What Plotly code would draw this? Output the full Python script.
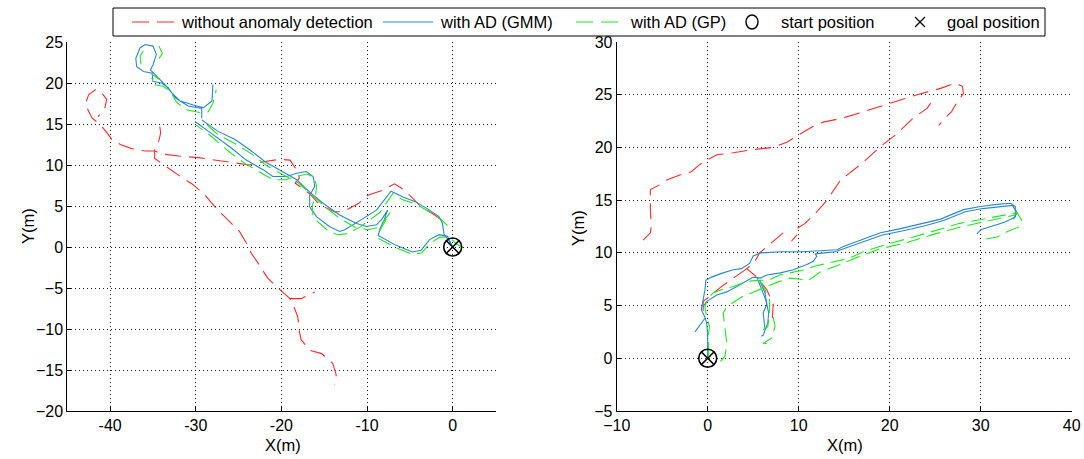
import plotly.graph_objects as go

# ---------------- trajectories (metres) ----------------
# Each series is a list of polyline segments of (x, y) points.

# Scenario 1 (left panel)
left_no_ad = [
    [(-1.5, 3.4), (-2.1, 3.9), (-3.9, 5.1), (-5.0, 6.3), (-6.0, 7.2), (-6.8, 7.7), (-7.5, 7.3),
     (-8.2, 6.9), (-9.9, 6.3), (-10.5, 5.8), (-11.0, 5.3), (-12.8, 4.3), (-13.8, 4.3), (-15.5, 5.1),
     (-16.7, 6.5), (-18.4, 7.8), (-17.9, 8.4), (-18.1, 9.2), (-19.0, 10.6), (-20.2, 10.7),
     (-22.1, 10.4), (-23.7, 10.0), (-26.8, 10.5), (-29.7, 10.9), (-32.0, 11.1), (-33.6, 11.3),
     (-34.8, 11.7), (-35.9, 11.7), (-37.5, 12.0), (-38.8, 12.5), (-39.8, 13.1), (-40.2, 13.7),
     (-41.2, 15.0), (-42.1, 15.7), (-42.9, 17.4), (-42.5, 18.6), (-41.7, 19.2), (-41.0, 18.8),
     (-40.4, 18.0), (-40.6, 17.0), (-41.4, 15.9)],
    [(-34.2, 14.7), (-34.1, 13.9), (-34.3, 13.0), (-34.8, 11.9), (-34.8, 10.8), (-33.2, 9.6),
     (-31.8, 8.6), (-30.3, 7.6), (-28.9, 6.3), (-27.6, 4.7), (-26.4, 3.5), (-24.9, 1.9),
     (-24.1, 0.5), (-23.5, -0.8), (-22.7, -2.0), (-21.6, -3.8), (-20.6, -4.8), (-19.0, -6.3),
     (-18.6, -7.1), (-18.1, -8.5), (-17.9, -9.9), (-17.9, -10.3), (-17.7, -11.3), (-16.7, -12.6),
     (-15.3, -13.0), (-14.0, -14.2), (-13.6, -15.6), (-13.8, -16.8)],
    [(-19.0, -6.3), (-17.7, -6.3), (-16.1, -5.5)],
]

left_gmm = [
    [(0.0, 0.0), (-0.5, 0.9), (-1.0, 1.5), (-1.2, 2.9), (-1.6, 3.7), (-2.7, 4.5), (-4.3, 5.5),
     (-5.8, 6.1), (-7.2, 6.8), (-8.9, 4.5), (-10.1, 3.7), (-11.3, 2.9), (-12.6, 2.1), (-13.2, 1.9),
     (-14.4, 2.5), (-15.9, 3.7), (-16.7, 4.9), (-16.7, 6.3), (-16.1, 7.4), (-16.3, 8.6),
     (-17.1, 9.2), (-18.2, 9.0), (-19.4, 8.6), (-21.0, 8.6), (-22.1, 9.4), (-24.1, 10.6),
     (-26.0, 12.2), (-28.5, 14.1), (-30.1, 15.3)],
    [(-29.3, 15.7), (-29.3, 16.9), (-30.9, 17.2), (-32.4, 18.2), (-33.2, 19.4), (-34.0, 20.0),
     (-35.0, 20.2), (-35.1, 21.2), (-36.1, 21.4), (-36.9, 22.0), (-37.0, 23.0), (-36.5, 24.3),
     (-35.9, 24.7), (-35.0, 24.5), (-34.6, 23.5), (-35.0, 22.2), (-35.3, 21.6), (-33.6, 19.8),
     (-32.8, 18.8), (-31.8, 17.8), (-29.9, 17.2), (-29.1, 17.0), (-28.1, 17.8), (-28.0, 19.8)],
    [(-29.3, 15.5), (-27.4, 14.1), (-25.4, 13.1), (-23.5, 11.7), (-21.9, 10.4), (-19.8, 9.2),
     (-18.2, 8.2), (-16.7, 6.7), (-15.1, 5.3), (-13.2, 3.9), (-11.3, 2.9), (-10.1, 2.5),
     (-8.9, 2.7), (-8.2, 3.5), (-7.6, 4.5), (-8.0, 3.3), (-8.5, 2.2), (-8.7, 1.4), (-6.6, 0.2),
     (-4.7, -0.6), (-3.7, -0.4), (-2.7, 0.9), (-1.6, 1.5), (-0.6, 1.3), (0.0, 0.0)],
]

left_gp = [
    [(1.2, -0.1), (0.4, 0.4), (-0.4, 1.2), (-1.5, 1.2), (-2.6, 0.5), (-3.6, -0.7), (-4.7, -0.9),
     (-6.6, -0.1), (-8.6, 1.0), (-8.5, 2.0), (-7.7, 3.5), (-7.3, 4.2), (-8.6, 2.4), (-9.9, 2.1),
     (-11.4, 2.4), (-13.2, 3.5), (-15.0, 5.0), (-16.5, 6.4), (-18.0, 7.8), (-19.8, 8.8),
     (-21.7, 9.9), (-23.4, 11.3), (-25.4, 12.6), (-27.4, 13.7), (-29.0, 15.2)],
    [(-0.6, 2.6), (-1.4, 3.4), (-2.6, 4.2), (-4.2, 5.2), (-5.9, 5.8), (-7.0, 6.5), (-8.5, 4.2),
     (-9.8, 3.2), (-11.0, 2.3), (-12.5, 1.6), (-13.5, 1.5), (-14.8, 2.2), (-16.3, 3.6),
     (-16.4, 5.0), (-16.0, 6.3), (-15.9, 7.4), (-16.1, 8.4), (-17.0, 8.9), (-18.3, 8.6),
     (-19.5, 8.2), (-21.0, 8.2), (-22.3, 9.0), (-24.3, 10.2), (-26.2, 11.7), (-28.3, 13.6),
     (-30.0, 14.9)],
    [(-28.6, 16.4), (-28.0, 17.5), (-27.6, 19.2)],
    [(-29.5, 16.4), (-31.0, 16.7), (-32.2, 17.6), (-33.0, 19.0), (-33.8, 19.6), (-34.8, 19.8),
     (-35.2, 20.6)],
    [(-36.4, 22.3), (-36.5, 23.3), (-36.0, 24.1)],
    [(-34.3, 24.5), (-33.9, 23.6), (-34.4, 22.8)],
    [(-35.0, 21.0), (-34.2, 20.4)],
]

# Scenario 2 (right panel)
right_no_ad = [
    [(-7.1, 11.2), (-6.3, 11.9), (-6.2, 12.5), (-6.3, 14.1), (-6.3, 16.0), (-5.4, 16.4),
     (-4.5, 16.9), (-3.0, 17.4), (-1.8, 17.7), (-1.0, 18.3), (-0.3, 18.7), (1.0, 19.3),
     (2.8, 19.5), (5.0, 19.8), (7.2, 20.0), (8.7, 20.5), (10.2, 21.3), (11.6, 22.0), (12.7, 22.4),
     (14.9, 22.8), (16.4, 23.2), (19.0, 23.9), (21.2, 24.5), (23.4, 25.1), (25.6, 25.6),
     (27.2, 26.1), (28.0, 25.8), (28.1, 25.1), (27.4, 24.3), (26.8, 23.4), (26.1, 22.8),
     (25.4, 22.1)],
    [(24.5, 24.2), (24.1, 23.7), (22.6, 22.8), (20.8, 21.3), (19.0, 20.1), (17.1, 18.6),
     (14.6, 16.9), (13.1, 15.0), (12.0, 13.9), (10.7, 12.8), (9.8, 12.3), (10.0, 11.9),
     (9.2, 11.1)],
    [(8.3, 11.9), (6.8, 10.8), (5.7, 10.0), (5.2, 9.2), (4.3, 8.5), (5.4, 7.7), (6.5, 6.5),
     (7.2, 5.1), (7.1, 3.8)],
    [(4.3, 8.5), (3.0, 7.7), (1.5, 6.8), (0.1, 5.8), (-0.5, 5.4), (-0.5, 4.6), (-0.3, 3.8)],
]

right_gmm = [
    [(0.0, 0.0), (0.0, 1.1), (0.0, 2.0), (-0.1, 3.3), (-0.3, 3.9), (-0.7, 4.6), (-0.5, 5.5),
     (-0.3, 6.5), (-0.2, 7.4), (0.4, 7.7), (1.7, 8.1), (2.8, 8.4), (3.7, 8.5), (4.6, 9.0),
     (5.0, 9.7), (5.9, 10.0), (8.0, 10.1), (10.2, 10.1), (12.4, 10.2), (14.2, 10.3), (14.9, 10.6),
     (16.4, 11.1), (19.0, 11.9), (21.2, 12.3), (23.7, 12.8), (25.6, 13.2), (28.1, 14.1),
     (30.0, 14.4), (31.8, 14.6), (33.3, 14.7), (33.8, 14.4), (33.8, 13.4), (32.6, 12.9),
     (31.1, 12.5), (30.0, 12.2), (29.6, 11.8)],
    [(-0.5, 4.9), (-0.1, 5.4), (1.0, 6.0), (2.1, 6.3), (3.2, 6.8), (4.3, 7.4), (5.0, 7.7),
     (5.8, 7.6), (6.5, 7.9), (8.0, 8.1), (9.4, 8.4), (10.9, 8.9), (11.6, 9.2), (12.0, 9.7),
     (11.8, 9.9), (14.0, 10.1), (16.5, 10.9), (19.2, 11.7), (21.5, 12.1), (24.0, 12.6),
     (26.0, 13.1), (28.3, 13.9), (30.2, 14.2), (32.0, 14.4), (33.5, 14.5), (34.0, 13.8),
     (33.6, 13.2)],
    [(5.4, 7.7), (5.9, 6.5), (6.4, 5.5), (6.7, 4.3), (6.6, 3.3), (6.1, 2.2), (5.9, 2.1)],
    [(5.7, 7.4), (6.3, 6.2), (6.5, 5.1), (6.1, 4.3), (6.3, 2.7)],
    [(-1.4, 2.5), (-0.3, 3.8)],
]

right_gp = [
    [(0.1, 0.2), (0.1, 1.2), (0.1, 2.3), (0.2, 3.0), (-0.1, 3.9), (-0.3, 4.8), (-0.1, 5.6),
     (0.6, 6.2), (1.5, 6.5), (2.8, 6.8), (4.3, 7.3), (5.7, 7.4), (6.7, 7.4), (7.9, 7.9),
     (9.4, 8.2), (10.7, 8.4), (11.6, 8.7), (13.1, 9.0), (14.5, 9.3), (15.6, 9.5), (17.1, 10.1),
     (18.9, 10.6), (20.0, 10.9), (22.2, 11.4), (24.1, 11.9), (25.9, 12.3), (27.7, 12.8),
     (29.6, 13.1), (31.4, 13.4), (34.0, 13.8), (34.5, 13.1), (34.3, 12.5), (32.9, 12.0),
     (31.8, 11.5), (30.5, 11.3)],
    [(1.4, -0.3), (1.9, 0.2), (2.1, 1.4), (1.9, 3.0), (1.7, 4.3), (2.1, 4.9), (2.6, 5.2),
     (3.9, 5.9), (4.8, 6.2), (6.2, 6.7), (7.6, 7.2), (9.0, 7.6), (11.1, 7.4), (12.4, 8.2),
     (14.9, 9.0), (16.5, 9.6), (19.0, 10.4), (22.0, 11.0), (25.0, 11.8), (28.0, 12.5),
     (30.0, 12.9), (32.0, 13.3), (33.8, 13.6)],
    [(5.7, 7.4), (6.3, 6.5), (6.8, 5.5), (6.8, 4.3), (6.6, 3.0), (6.1, 2.7)],
    [(7.2, 3.9), (7.4, 3.0), (7.0, 1.9), (6.1, 1.4), (6.7, 1.4)],
]

start_pos = (0.0, 0.0)
goal_pos = (0.0, 0.0)

# axis ranges / ticks
left_x_range, left_y_range = [-45, 5], [-20, 25]
right_x_range, right_y_range = [-10, 40], [-5, 30]
left_x_ticks = [-45, -40, -30, -20, -10, 0, 5]
left_x_text = ["", "-40", "-30", "-20", "-10", "0", ""]
left_y_ticks = [-20, -15, -10, -5, 0, 5, 10, 15, 20, 25]
right_x_ticks = [-10, 0, 10, 20, 30, 40]
right_y_ticks = [-5, 0, 5, 10, 15, 20, 25, 30]

series_names = ["without anomaly detection", "with AD (GMM)", "with AD (GP)",
                "start position", "goal position"]

# ---------------- styling ----------------
W, H = 1084, 459
FONT = "Liberation Sans, Arial, sans-serif"
RED, BLUE, GREEN = "#ff2a2a", "#2b86cf", "#1ee81e"
RED_DASH, GREEN_DASH = "16px,8px", "14px,7px"


def flatten(segments):
    xs, ys = [], []
    for seg in segments:
        for x, y in seg:
            xs.append(x)
            ys.append(y)
        xs.append(None)
        ys.append(None)
    return xs, ys


def px(x):
    return x / W


def py(y):
    return 1 - y / H


fig = go.Figure()

panels = [
    ("x", "y", left_no_ad, left_gmm, left_gp),
    ("x2", "y2", right_no_ad, right_gmm, right_gp),
]
for xa, ya, red, blue, green in panels:
    for segs, color, dash, name in [
        (red, RED, RED_DASH, series_names[0]),
        (blue, BLUE, "solid", series_names[1]),
        (green, GREEN, GREEN_DASH, series_names[2]),
    ]:
        xs, ys = flatten(segs)
        fig.add_trace(go.Scatter(x=xs, y=ys, mode="lines", name=name, xaxis=xa, yaxis=ya,
                                 line=dict(color=color, width=1.1, dash=dash),
                                 showlegend=False, connectgaps=False))
    fig.add_trace(go.Scatter(x=[start_pos[0]], y=[start_pos[1]], mode="markers",
                             name=series_names[3], xaxis=xa, yaxis=ya, showlegend=False,
                             marker=dict(symbol="circle-open", size=18, color="black",
                                         line=dict(width=1.6, color="black"))))
    fig.add_trace(go.Scatter(x=[goal_pos[0]], y=[goal_pos[1]], mode="markers",
                             name=series_names[4], xaxis=xa, yaxis=ya, showlegend=False,
                             marker=dict(symbol="x-thin-open", size=12, color="black",
                                         line=dict(width=1.6, color="black"))))

axis_common = dict(
    showline=True, linecolor="black", linewidth=1, mirror=False,
    ticks="inside", ticklen=4, tickcolor="black", tickwidth=1,
    showgrid=True, gridcolor="#1a1a1a", gridwidth=1, griddash="1px,3px",
    zeroline=False, automargin=False,
    tickfont=dict(family=FONT, size=16, color="black"),
)

left_dom_x = [px(67.3), px(495.5)]
right_dom_x = [px(616.7), px(1071.7)]
dom_y = [py(411), py(42)]

fig.update_layout(
    width=W, height=H,
    margin=dict(l=0, r=0, t=0, b=0),
    paper_bgcolor="white", plot_bgcolor="white",
    showlegend=False,
    font=dict(family=FONT, size=16, color="black"),
    xaxis=dict(axis_common, domain=left_dom_x, range=left_x_range, anchor="y",
               tickmode="array", tickvals=left_x_ticks, ticktext=left_x_text),
    yaxis=dict(axis_common, domain=dom_y, range=left_y_range, anchor="x",
               tickmode="array", tickvals=left_y_ticks),
    xaxis2=dict(axis_common, domain=right_dom_x, range=right_x_range, anchor="y2",
                tickmode="array", tickvals=right_x_ticks),
    yaxis2=dict(axis_common, domain=dom_y, range=right_y_range, anchor="x2",
                tickmode="array", tickvals=right_y_ticks),
)

# axis titles
annotations = []
for cx, cy, txt, ang in [(283, 445, "X(m)", 0), (845, 445, "X(m)", 0),
                         (28, 226, "Y(m)", -90), (578, 228, "Y(m)", -90)]:
    annotations.append(dict(x=px(cx), y=py(cy), xref="paper", yref="paper", text=txt,
                            showarrow=False, textangle=ang, xanchor="center", yanchor="middle",
                            font=dict(family=FONT, size=16.5, color="black")))

# legend box
shapes = [dict(type="rect", xref="paper", yref="paper", x0=px(113), x1=px(1045),
               y0=py(36), y1=py(8), line=dict(color="black", width=1), fillcolor="white",
               layer="above")]
LY = 22
shapes.append(dict(type="line", xref="paper", yref="paper", x0=px(132), x1=px(175),
                   y0=py(LY), y1=py(LY), line=dict(color=RED, width=1.2, dash="17px,8px"),
                   layer="above"))
shapes.append(dict(type="line", xref="paper", yref="paper", x0=px(383), x1=px(433),
                   y0=py(LY), y1=py(LY), line=dict(color=BLUE, width=1.2), layer="above"))
shapes.append(dict(type="line", xref="paper", yref="paper", x0=px(576), x1=px(619),
                   y0=py(LY), y1=py(LY), line=dict(color=GREEN, width=1.2, dash="17px,8px"),
                   layer="above"))
shapes.append(dict(type="circle", xref="paper", yref="paper", x0=px(746), x1=px(758),
                   y0=py(LY + 7), y1=py(LY - 7), line=dict(color="black", width=1.4),
                   layer="above"))
for (a, b), (c, d) in [((915, 925), (LY - 5, LY + 5)), ((915, 925), (LY + 5, LY - 5))]:
    shapes.append(dict(type="line", xref="paper", yref="paper", x0=px(a), x1=px(b),
                       y0=py(c), y1=py(d), line=dict(color="black", width=1.2),
                       layer="above"))

for x0, txt in [(179, series_names[0]), (438, series_names[1]), (628, series_names[2]),
                (779, series_names[3]), (945, series_names[4])]:
    annotations.append(dict(x=px(x0), y=py(LY), xref="paper", yref="paper", text=txt,
                            showarrow=False, xanchor="left", yanchor="middle",
                            font=dict(family=FONT, size=16.5, color="black")))

fig.update_layout(shapes=shapes, annotations=annotations)

fig.write_html("out.html")
